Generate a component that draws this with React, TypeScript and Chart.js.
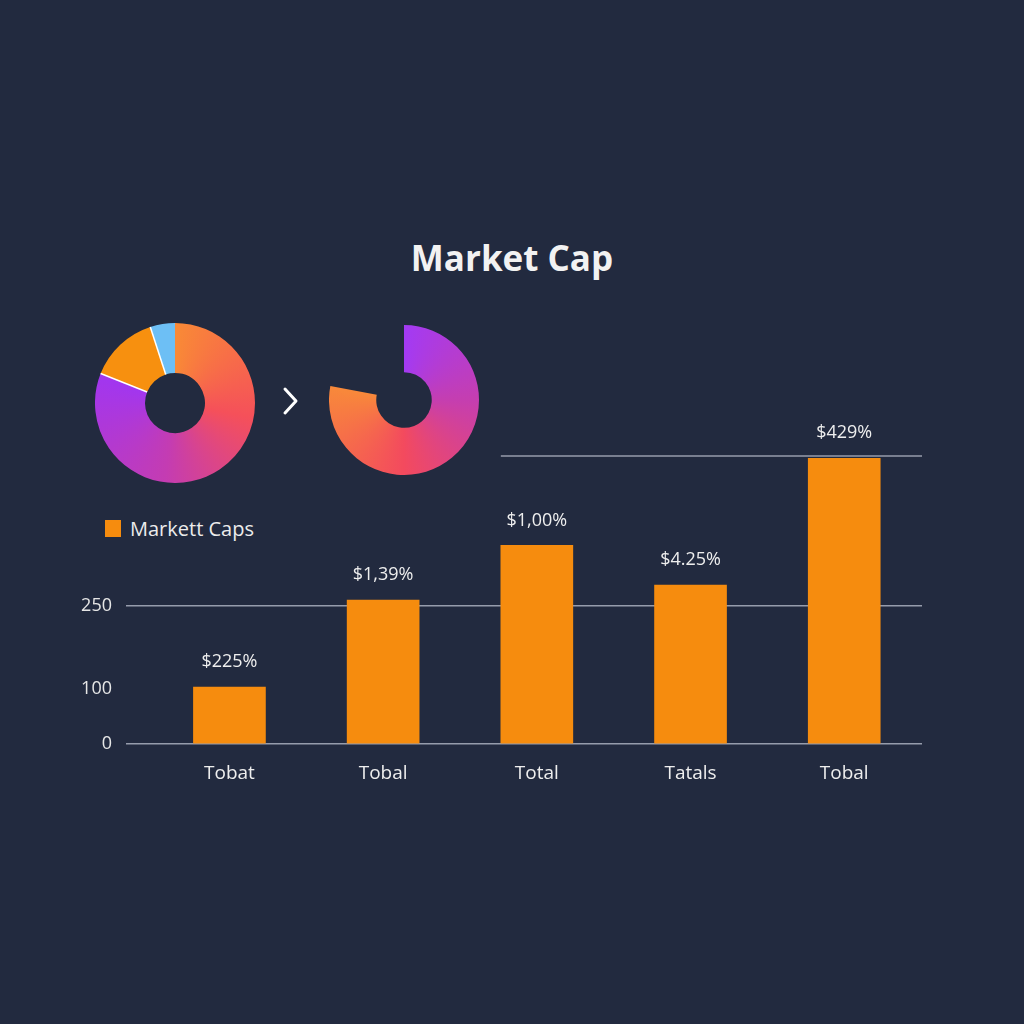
import React, { useEffect, useRef } from "react";
import { Chart, registerables } from "chart.js";

Chart.register(...registerables);

const TITLE = "Market Cap";
const LEGEND_LABEL = "Markett Caps";

const categories = ["Tobat", "Tobal", "Total", "Tatals", "Tobal"];
const barValues = [103, 261, 360, 288, 518];
const barValueLabels = ["$225%", "$1,39%", "$1,00%", "$4.25%", "$429%"];
const yTickValues = [0, 100, 250];
const yMax = 522;

const donut1Values = [81, 14, 5];
const donut2Values = [78, 22];

const BG = "#222a3f";
const ORANGE = "#f68c0e";
const FONT = "'Open Sans', 'Noto Sans', sans-serif";

function conic(chart: any, stops: [number, string][], fallback: string) {
  const area = chart.chartArea;
  if (!area) return fallback;
  const cx = (area.left + area.right) / 2;
  const cy = (area.top + area.bottom) / 2;
  const g = chart.ctx.createConicGradient(-Math.PI / 2, cx, cy);
  stops.forEach(([o, c]) => g.addColorStop(o, c));
  return g;
}

function BarChart() {
  const ref = useRef<HTMLCanvasElement>(null);
  useEffect(() => {
    if (!ref.current) return;
    const valueLabelPlugin = {
      id: "valueLabels",
      afterDatasetsDraw(chart: any) {
        const ctx = chart.ctx;
        const meta = chart.getDatasetMeta(0);
        ctx.save();
        ctx.fillStyle = "#eeeeee";
        ctx.font = `18px ${FONT}`;
        ctx.textAlign = "center";
        ctx.textBaseline = "middle";
        meta.data.forEach((bar: any, i: number) => {
          ctx.fillText(barValueLabels[i], bar.x, bar.y - 25);
        });
        // partial top line at max value
        const yScale = chart.scales.y;
        const yTop = yScale.getPixelForValue(yMax);
        const b3 = meta.data[2];
        const startX = b3.x - b3.width / 2;
        ctx.strokeStyle = "rgba(190,195,210,0.75)";
        ctx.lineWidth = 1.5;
        ctx.beginPath();
        ctx.moveTo(startX, yTop);
        ctx.lineTo(chart.chartArea.right, yTop);
        ctx.stroke();
        ctx.restore();
      },
    };
    const chart = new Chart(ref.current, {
      type: "bar",
      data: {
        datasets: [
          {
            label: LEGEND_LABEL,
            data: categories.map((_, i) => ({ x: i, y: barValues[i] })),
            backgroundColor: ORANGE,
            barThickness: 72,
            borderWidth: 0,
          },
        ],
      },
      options: {
        animation: false,
        responsive: false,
        events: [],
        layout: { padding: { left: 66, right: 102, top: 36, bottom: 26 } },
        plugins: { legend: { display: false }, tooltip: { enabled: false } },
        scales: {
          x: {
            type: "linear",
            offset: false,
            min: -0.673,
            max: 4.506,
            afterBuildTicks: (scale: any) => {
              scale.ticks = categories.map((_, i) => ({ value: i }));
            },
            afterFit: (scale: any) => {
              scale.height = 50;
            },
            grid: { display: false, drawTicks: false, offset: false },
            border: { display: false },
            ticks: {
              color: "#eeeeee",
              font: { family: FONT, size: 19 },
              padding: 18,
              maxRotation: 0,
              autoSkip: false,
              callback: (v: any) => categories[v as number] ?? "",
            },
          },
          y: {
            min: 0,
            max: yMax,
            afterBuildTicks: (scale: any) => {
              scale.ticks = yTickValues.map((v) => ({ value: v }));
            },
            afterFit: (scale: any) => {
              scale.width = 60;
            },
            grid: {
              drawTicks: false,
              lineWidth: 1.5,
              color: (c: any) =>
                c.tick && c.tick.value === 100 ? "rgba(0,0,0,0)" : "rgba(190,195,210,0.75)",
            },
            border: { display: false },
            ticks: {
              color: "#e6e6e6",
              font: { family: FONT, size: 18 },
              padding: 14,
            },
          },
        },
      },
      plugins: [valueLabelPlugin],
    } as any);
    return () => chart.destroy();
  }, []);
  return (
    <canvas
      ref={ref}
      width={1024}
      height={400}
      style={{ position: "absolute", left: 0, top: 420, width: 1024, height: 400 }}
    />
  );
}

function Donut1() {
  const ref = useRef<HTMLCanvasElement>(null);
  useEffect(() => {
    if (!ref.current) return;
    const sepPlugin = {
      id: "sep",
      afterDatasetsDraw(chart: any) {
        const arc = chart.getDatasetMeta(0).data[1];
        if (!arc) return;
        const { x, y, startAngle, endAngle, innerRadius, outerRadius } = arc.getProps(
          ["x", "y", "startAngle", "endAngle", "innerRadius", "outerRadius"],
          true
        );
        const ctx = chart.ctx;
        ctx.save();
        ctx.strokeStyle = "#ffffff";
        ctx.lineWidth = 1.5;
        [startAngle, endAngle].forEach((a: number) => {
          ctx.beginPath();
          ctx.moveTo(x + Math.cos(a) * innerRadius, y + Math.sin(a) * innerRadius);
          ctx.lineTo(x + Math.cos(a) * outerRadius, y + Math.sin(a) * outerRadius);
          ctx.stroke();
        });
        ctx.restore();
      },
    };
    const chart = new Chart(ref.current, {
      type: "doughnut",
      data: {
        labels: ["A", "B", "C"],
        datasets: [
          {
            data: donut1Values,
            backgroundColor: (c: any) => {
              if (c.dataIndex === 0)
                return conic(
                  c.chart,
                  [
                    [0, "#f98a36"],
                    [0.28, "#f5505a"],
                    [0.52, "#c43cb2"],
                    [0.8, "#a236ee"],
                    [1, "#a236ee"],
                  ],
                  "#f5505a"
                );
              if (c.dataIndex === 1) return "#f7900f";
              return "#6dbff5";
            },
            borderWidth: 0,
          },
        ],
      },
      options: {
        animation: false,
        responsive: false,
        events: [],
        cutout: "37.5%",
        plugins: { legend: { display: false }, tooltip: { enabled: false } },
      },
      plugins: [sepPlugin],
    } as any);
    return () => chart.destroy();
  }, []);
  return (
    <canvas
      ref={ref}
      width={160}
      height={160}
      style={{ position: "absolute", left: 95, top: 323, width: 160, height: 160 }}
    />
  );
}

function Donut2() {
  const ref = useRef<HTMLCanvasElement>(null);
  useEffect(() => {
    if (!ref.current) return;
    const chart = new Chart(ref.current, {
      type: "doughnut",
      data: {
        labels: ["A", "B"],
        datasets: [
          {
            data: donut2Values,
            backgroundColor: (c: any) => {
              if (c.dataIndex === 0)
                return conic(
                  c.chart,
                  [
                    [0, "#a33af4"],
                    [0.25, "#c53eb0"],
                    [0.5, "#f34a5e"],
                    [0.78, "#f8893a"],
                    [1, "#f8893a"],
                  ],
                  "#f34a5e"
                );
              return "rgba(0,0,0,0)";
            },
            borderWidth: 0,
          },
        ],
      },
      options: {
        animation: false,
        responsive: false,
        events: [],
        cutout: "37%",
        plugins: { legend: { display: false }, tooltip: { enabled: false } },
      },
    } as any);
    return () => chart.destroy();
  }, []);
  return (
    <canvas
      ref={ref}
      width={150}
      height={150}
      style={{ position: "absolute", left: 329, top: 325, width: 150, height: 150 }}
    />
  );
}

export default function App() {
  return (
    <div
      style={{
        position: "fixed",
        left: 0,
        top: 0,
        width: 1024,
        height: 1024,
        background: BG,
        overflow: "hidden",
        fontFamily: FONT,
      }}
    >
      <div
        style={{
          position: "absolute",
          left: 0,
          width: 1024,
          top: 234,
          textAlign: "center",
          color: "#f2f2f2",
          fontWeight: 700,
          fontSize: 35,
          lineHeight: "48px",
        }}
      >
        {TITLE}
      </div>
      <Donut1 />
      <svg
        width={20}
        height={32}
        style={{ position: "absolute", left: 281, top: 386 }}
      >
        <polyline
          points="4,3 15,15 4,27"
          fill="none"
          stroke="#ffffff"
          strokeWidth={3}
          strokeLinecap="round"
          strokeLinejoin="round"
        />
      </svg>
      <Donut2 />
      <div
        style={{
          position: "absolute",
          left: 105,
          top: 513,
          height: 30,
          display: "flex",
          alignItems: "center",
          color: "#ececec",
          fontSize: 20,
        }}
      >
        <span
          style={{
            display: "inline-block",
            width: 16,
            height: 17,
            background: ORANGE,
            marginRight: 9,
          }}
        />
        {LEGEND_LABEL}
      </div>
      <BarChart />
    </div>
  );
}
